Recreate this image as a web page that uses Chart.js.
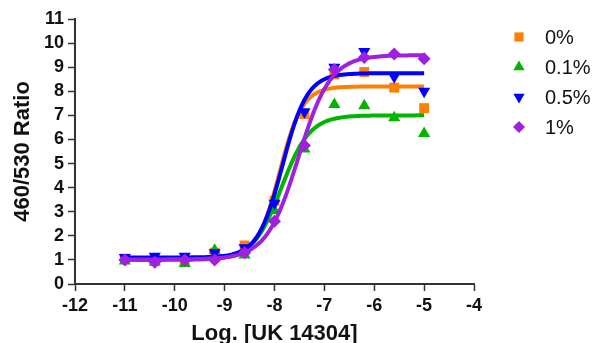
<!DOCTYPE html>
<html>
<head>
<meta charset="utf-8">
<script src="https://cdn.jsdelivr.net/npm/chart.js@4.4.1/dist/chart.umd.min.js"></script>
<style>
    html, body { margin: 0; padding: 0; background: #fff; }
    #wrap { width: 597px; height: 343px; }
</style>
</head>
<body>
<div id="wrap"><canvas id="doseChart" width="597" height="343"></canvas></div>
<script>
// measured points
const logDose = [-11, -10.4, -9.8, -9.2, -8.6, -8, -7.4, -6.8, -6.2, -5.6, -5];
const ratio0 = [1.05, 1.0, 1.0, 1.3, 1.6, 3.45, 7.05, 8.7, 8.8, 8.15, 7.3];
const ratio01 = [0.95, 0.9, 0.85, 1.4, 1.2, 3.05, 5.6, 7.45, 7.4, 6.9, 6.25];
const ratio05 = [1.1, 1.15, 1.15, 1.3, 1.5, 3.35, 7.15, 9.0, 9.65, 8.6, 8.0];
const ratio1 = [1.0, 0.9, 1.0, 1.0, 1.3, 2.6, 5.75, 8.9, 9.4, 9.55, 9.35];

const seriesNames = ["0%", "0.1%", "0.5%", "1%"];
const seriesValues = [ratio0, ratio01, ratio05, ratio1];

// four-parameter fit
const fitBottom = [1.05, 1.0, 1.1, 1.02];
const fitTop = [8.2, 7.0, 8.75, 9.5];
const fitLogEC50 = [-7.9, -7.86, -7.84, -7.52];
const fitHill = [1.9, 1.53, 1.75, 1.35];

const xTicks = [-12, -11, -10, -9, -8, -7, -6, -5, -4];
const yTicks = [0, 1, 2, 3, 4, 5, 6, 7, 8, 9, 10, 11];

const colors = ["#ff8000", "#00b400", "#0000ff", "#a020e0"];
const markers = [
    { style: "rect", rotation: 0, radius: 7 },
    { style: "triangle", rotation: 0, radius: 7 },
    { style: "triangle", rotation: 180, radius: 7 },
    { style: "rectRot", rotation: 0, radius: 6.5 }
];

function fitCurve(i) {
    const pts = [];
    for (let k = 0; k <= 120; k++) {
        const x = -11 + k * 0.05;
        const y = fitBottom[i] + (fitTop[i] - fitBottom[i]) /
            (1 + Math.pow(10, (fitLogEC50[i] - x) * fitHill[i]));
        pts.push({ x: x, y: y });
    }
    return pts;
}

const datasets = [];
seriesNames.forEach((name, i) => {
    datasets.push({
        label: name + " fit",
        data: fitCurve(i),
        showLine: true,
        borderColor: colors[i],
        borderWidth: 4,
        pointRadius: 0,
        fill: false,
        order: 10 - i * 2
    });
    datasets.push({
        label: name,
        data: logDose.map((x, k) => ({ x: x, y: seriesValues[i][k] })),
        showLine: false,
        backgroundColor: colors[i],
        borderColor: colors[i],
        borderWidth: 0,
        pointStyle: markers[i].style,
        rotation: markers[i].rotation,
        pointRadius: markers[i].radius,
        order: 9 - i * 2
    });
});

const sideLegend = {
    id: "sideLegend",
    afterDraw(chart) {
        const ctx = chart.ctx;
        ctx.save();
        seriesNames.forEach((name, i) => {
            const y = 37 + i * 30;
            ctx.fillStyle = colors[i];
            Chart.helpers.drawPoint(ctx, {
                pointStyle: markers[i].style,
                rotation: markers[i].rotation,
                radius: markers[i].radius - 0.5,
                borderWidth: 0
            }, 519, y);
            ctx.fillStyle = "#111";
            ctx.font = "20px 'Liberation Sans', Arial, sans-serif";
            ctx.textBaseline = "middle";
            ctx.fillText(name, 545, y + 1);
        });
        ctx.restore();
    }
};

const tickFont = { family: "'Liberation Sans', Arial, sans-serif", size: 18, weight: "bold" };
const titleFont = { family: "'Liberation Sans', Arial, sans-serif", size: 22, weight: "bold" };

new Chart(document.getElementById("doseChart"), {
    type: "scatter",
    data: { datasets: datasets },
    options: {
        responsive: false,
        devicePixelRatio: 1,
        animation: false,
        layout: { padding: { top: 19, right: 123, left: 0, bottom: 0 } },
        plugins: {
            legend: { display: false },
            tooltip: { enabled: false }
        },
        scales: {
            x: {
                type: "linear",
                min: -12,
                max: -4,
                afterBuildTicks: s => { s.ticks = xTicks.map(v => ({ value: v })); },
                afterFit: s => { s.height = 59; },
                ticks: { color: "#111", font: tickFont, padding: 4, maxRotation: 0, autoSkip: false },
                grid: { drawOnChartArea: false, drawTicks: true, tickLength: 7, tickWidth: 1.5, tickColor: "#333" },
                border: { color: "#333", width: 2 },
                title: {
                    display: true,
                    text: "Log. [UK 14304]",
                    color: "#111",
                    font: titleFont,
                    padding: { top: 0, bottom: -4 }
                }
            },
            y: {
                type: "linear",
                min: 0,
                max: 11,
                afterBuildTicks: s => { s.ticks = yTicks.map(v => ({ value: v })); },
                afterFit: s => { s.width = 75; },
                ticks: { color: "#111", font: tickFont, padding: 4, autoSkip: false },
                grid: { drawOnChartArea: false, drawTicks: true, tickLength: 7, tickWidth: 1.5, tickColor: "#333" },
                border: { color: "#333", width: 2 },
                title: {
                    display: true,
                    text: "460/530 Ratio",
                    color: "#111",
                    font: titleFont,
                    padding: { top: 10, bottom: 0 }
                }
            }
        }
    },
    plugins: [sideLegend]
});
</script>
</body>
</html>
